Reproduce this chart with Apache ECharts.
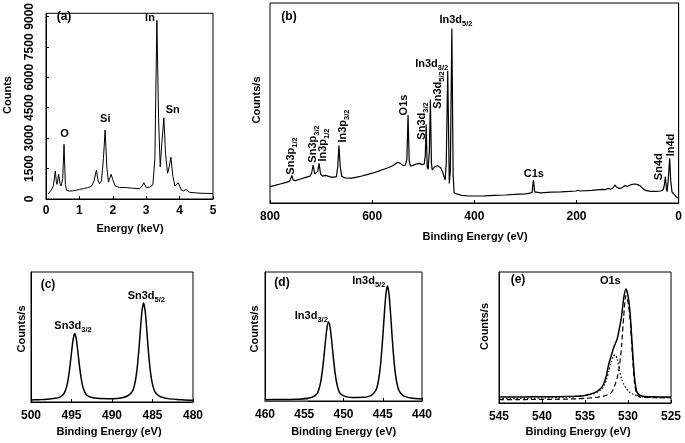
<!DOCTYPE html>
<html><head><meta charset="utf-8">
<script src="https://cdn.jsdelivr.net/npm/echarts@6/dist/echarts.min.js"></script>
<style>html,body{margin:0;padding:0;background:#fff}#c{width:685px;height:443px}</style>
</head><body><div id="c"></div>
<script>
// (a) EDS spectrum
const aEnergy = [0.07,0.12,0.17,0.22,0.28,0.31,0.33,0.38,0.42,0.45,0.50,0.54,0.58,0.62,0.70,0.80,0.90,1.00,1.12,1.25,1.37,1.44,1.51,1.56,1.60,1.66,1.72,1.77,1.82,1.87,1.95,2.00,2.07,2.20,2.42,2.60,2.81,2.88,2.93,3.00,3.10,3.20,3.26,3.32,3.37,3.42,3.47,3.53,3.58,3.64,3.69,3.74,3.80,3.86,3.96,4.06,4.12,4.19,4.30,4.50,4.70,5.00];
const aCounts = [250,330,480,650,1380,850,720,1220,750,640,1000,2690,700,420,390,400,430,470,510,560,640,900,1430,900,750,900,2000,3400,1600,830,1220,950,640,570,560,530,510,650,800,560,580,700,2000,8800,4000,1585,2800,4000,2200,1270,1600,2060,1100,640,800,420,400,470,330,300,280,270];
const aTicks = {min:0, max:5, interval:1, yMax:9150, yInterval:1500};

// (b) XPS survey
const bBE = [800,790,780,770,762,759,757,754.5,750,740,730,722,718.5,715.5,712.5,709,706.5,704,701,697,691,688,684,678,670,667.5,665,662.5,659.5,653,640,630,620,610,600,590,580,570,560,555,550,545,540,535,532,529.8,527.5,525,520,512,508,502,498,496,494.2,492.3,490.5,488,486,484,482.5,478,472,466,462,459,457,455,452.1,449,447,444,441.5,439.5,436,425,410,400,380,360,340,320,300,291,287,284.3,282,279,270,250,230,214,201,197,193,170,150,147,143,139,134,128,125,121,116,111,105,101,96,91,85,80,75,70,65,55,45,35,30,28,26,24,22.5,20,17.6,15.5,13,10,5,2,0];
const bCounts = [8.2,8.8,9.5,10.2,10.8,11.3,13.7,11.4,11.2,12.0,12.8,13.4,15.0,19.0,14.5,13.8,15.8,19.8,14.5,13.4,13.8,14.3,13.2,12.8,13.2,18,28.7,18,13.3,12.5,12.4,12.9,13.5,14.2,14.9,15.7,16.6,17.5,18.6,19.5,20.4,19.8,18.8,18.9,22,44,21,18.5,18.8,19.6,19.8,19.2,19.5,24,39.3,18,16.8,26,51.8,20,16.5,18,18.6,17.6,15.5,13,11.5,20,66,9.8,16,87.3,14,5,4.2,3.8,3.5,3.5,3.6,3.8,4.0,4.3,4.6,4.9,5.3,11.5,5.6,5.0,5.1,5.4,5.6,5.8,6.0,6.4,6.0,6.3,6.8,7.3,6.7,7.3,6.9,7.6,9.0,7.8,7.3,7.6,8.7,8.2,8.9,9.3,9.5,9.2,8.5,7.2,6.3,5.8,5.8,6.0,6.8,9,13.2,7,5.7,13,22.3,11,5.5,4.5,3.2,2.4,2.2];

// (c) Sn 3d
const cBE = [500,499,498,497,496.6,496.1,495.85,495.6,495.4,495.2,495.0,494.8,494.6,494.4,494.2,494.0,493.8,493.6,493.35,493.1,492.6,492.1,491.6,490.35,489.1,488.6,488.1,487.6,487.35,487.1,486.9,486.7,486.5,486.3,486.1,485.9,485.7,485.5,485.3,485.1,484.85,484.6,484.1,483.6,483.1,482,481,480];
const cCounts = [1.6,1.8,2.1,2.8,3.4,5.2,7.4,11.8,18.0,27.0,37.9,48.1,52.6,48.1,37.9,27.0,18.0,11.8,7.4,5.2,3.6,3.0,2.6,2.5,2.9,3.5,4.6,7.1,10.2,16.7,25.8,38.8,54.9,69.8,76.2,69.7,54.8,38.7,25.7,16.6,10.1,6.9,4.3,3.2,2.6,2.0,1.6,1.4];

// (d) In 3d
const dBE = [460,458,456,455,454.4,453.9,453.4,453.15,452.9,452.7,452.5,452.3,452.1,451.9,451.7,451.5,451.3,451.1,450.9,450.65,450.4,449.9,449.4,448.9,448.15,447.4,446.9,446.4,445.9,445.65,445.4,445.2,445.0,444.8,444.6,444.4,444.2,444.0,443.8,443.6,443.4,443.15,442.9,442.4,441.9,441.4,440.4,440];
const dCounts = [1.0,1.2,1.4,1.9,2.3,3.2,5.5,8.7,15.0,23.1,34.0,46.2,56.9,61.3,56.9,46.2,34.0,23.1,15.0,8.8,5.7,3.8,3.0,2.8,2.8,2.9,3.4,4.6,8.0,12.6,21.8,33.5,49.3,67.2,82.7,89.2,82.7,67.2,49.2,33.4,21.6,12.4,7.7,4.2,3.0,2.4,1.7,1.6];
const dBgBE = [460,454.5];
const dBgCounts = [0.6,0.6];

// (e) O 1s
const eBE = [545,543,541,539,537,536,535,534.5,534,533.5,533,532.75,532.5,532.25,532,531.75,531.5,531.25,531,530.75,530.5,530.25,530,529.75,529.5,529.25,529,528.75,528.5,528,527,526,525];
const eEnvelope = [4.6,4.6,4.7,4.8,4.9,5.2,5.8,6.5,7.5,9.2,12.5,16,21,29.5,35,40.5,45,49,57,66,80,87,82,68,43,20,9,6.5,5.6,5.0,4.7,4.6,4.5];
const eLattice = [2.6,2.6,2.7,2.8,3.0,3.2,3.5,3.8,4.1,4.5,5.0,5.4,5.9,6.6,7.6,10,14,19.5,28,43,66,82,77,64,38,16,7,5.0,4.5,4.2,4.1,4.0,4.0];
const eDefect = [3.3,3.4,3.6,3.9,4.5,5.0,5.8,6.4,7.0,8.5,11.0,13.8,18,24,30.5,35.5,36.8,33.5,25,18.5,14.5,11.5,9.5,8,7,6.2,5.6,5.2,4.9,4.5,4.2,4.1,4.0];

const F = 'Liberation Sans';
const zip = (xs, ys) => xs.map((x, i) => [x, ys[i]]);
const plain = v => String(v);

function xAx(gi, min, max, interval, inverse, margin) {
  return {type:'value', gridIndex:gi, min:min, max:max, interval:interval, inverse:inverse,
    axisLine:{show:true, onZero:false, lineStyle:{color:'#000', width:1}},
    axisTick:{show:true, inside:true, length:3, lineStyle:{color:'#000'}},
    axisLabel:{fontFamily:F, fontWeight:'bold', fontSize:12, color:'#000', margin:margin, formatter:plain},
    splitLine:{show:false}};
}
function yAxPlain(gi) {
  return {type:'value', gridIndex:gi, min:0, max:100,
    axisLine:{show:true, lineStyle:{color:'#000', width:1}},
    axisTick:{show:false}, axisLabel:{show:false}, splitLine:{show:false}};
}
function line(gi, data, width, type) {
  return {type:'line', xAxisIndex:gi, yAxisIndex:gi, data:data, showSymbol:false, symbol:'none',
    smooth: gi >= 2 ? 0.25 : false, animation:false,
    lineStyle:{color:'#000', width:width, type:type || 'solid'}};
}
const gridStyle = {show:true, borderColor:'#000', borderWidth:1, backgroundColor:'transparent'};

function txt(x, y, main, sub, rot, size) {
  size = size || 11;
  const text = sub ? '{m|' + main + '}{s|' + sub + '}' : '{m|' + main + '}';
  return {type:'text', x:x, y:y, rotation: rot ? Math.PI/2 : 0, z:100,
    style:{text:text, align:'center', verticalAlign:'middle', textAlign:'center', textVerticalAlign:'middle',
      fill:'#000',
      rich:{m:{fontFamily:F, fontWeight:'bold', fontSize:size, lineHeight:16, color:'#000'},
            s:{fontFamily:F, fontWeight:'bold', fontSize:7.5, verticalAlign:'bottom', color:'#000'}}}};
}

const annotations = [
  txt(64, 17, '(a)', '', false, 12),
  txt(64.5, 134, 'O'), txt(105.3, 119, 'Si'), txt(150, 18, 'In'), txt(172.7, 110, 'Sn'),
  txt(8, 95, 'Counts', '', true),
  txt(130, 229, 'Energy (keV)'),
  txt(289, 16.5, '(b)', '', false, 12),
  txt(291, 156, 'Sn3p', '1/2', true), txt(312.5, 144, 'Sn3p', '3/2', true),
  txt(323, 145, 'In3p', '1/2', true), txt(342.5, 126, 'In3p', '3/2', true),
  txt(403.7, 105, 'O1s', '', true), txt(421.7, 121, 'Sn3d', '3/2', true),
  txt(437.5, 90, 'Sn3d', '5/2', true),
  txt(431.7, 64, 'In3d', '3/2'), txt(456, 20, 'In3d', '5/2'),
  txt(533.8, 174, 'C1s'), txt(659.2, 166.7, 'Sn4d', '', true), txt(670.5, 145, 'In4d', '', true),
  txt(256.7, 100, 'Counts/s', '', true),
  txt(475, 237, 'Binding Energy (eV)'),
  txt(48, 284.5, '(c)', '', false, 12),
  txt(73, 326, 'Sn3d', '3/2'), txt(146.3, 296, 'Sn3d', '5/2'),
  txt(21.7, 329, 'Counts/s', '', true), txt(109, 432, 'Binding Energy (eV)'),
  txt(282, 283, '(d)', '', false, 12),
  txt(311.3, 315.5, 'In3d', '3/2'), txt(368.8, 281, 'In3d', '5/2'),
  txt(255, 329, 'Counts/s', '', true), txt(343.7, 432, 'Binding Energy (eV)'),
  txt(518, 280, '(e)', '', false, 12), txt(610.3, 281, 'O1s'),
  txt(485.3, 326.5, 'Counts/s', '', true), txt(578, 432, 'Binding Energy (eV)')
];

const chart = echarts.init(document.getElementById('c'), null, {renderer:'canvas'});
const option = {
  backgroundColor:'#fff',
  animation:false,
  grid:[
    Object.assign({left:46, top:5, width:167, height:194}, gridStyle),
    Object.assign({left:270, top:3, width:410, height:200}, gridStyle),
    Object.assign({left:31, top:272, width:162, height:130}, gridStyle),
    Object.assign({left:265, top:272, width:157, height:129}, gridStyle),
    Object.assign({left:499, top:272, width:172, height:131}, gridStyle)
  ],
  xAxis:[
    xAx(0, aTicks.min, aTicks.max, aTicks.interval, false, 6),
    xAx(1, 0, 800, 200, true, 8),
    xAx(2, 480, 500, 5, true, 8),
    xAx(3, 440, 460, 5, true, 8),
    xAx(4, 525, 545, 5, true, 8)
  ],
  yAxis:[
    {type:'value', gridIndex:0, min:0, max:aTicks.yMax, interval:aTicks.yInterval,
      axisLine:{show:true, lineStyle:{color:'#000'}},
      axisTick:{show:true, inside:true, length:3, lineStyle:{color:'#000'}},
      axisLabel:{rotate:90, fontFamily:F, fontWeight:'bold', fontSize:12, color:'#000', margin:10, showMaxLabel:false, formatter:plain},
      splitLine:{show:false}},
    yAxPlain(1), yAxPlain(2), yAxPlain(3), yAxPlain(4)
  ],
  series:[
    line(0, zip(aEnergy, aCounts), 1),
    line(1, zip(bBE, bCounts), 1.2),
    line(2, zip(cBE, cCounts), 1.5),
    Object.assign(line(3, zip(dBgBE, dBgCounts), 2.5), {smooth:false, lineStyle:{color:'#888', width:2.5}}),
    line(3, zip(dBE, dCounts), 1.5),
    line(4, zip(eBE, eEnvelope), 1.5),
    line(4, zip(eBE, eLattice), 1.2, [5, 3]),
    line(4, zip(eBE, eDefect), 1.2, [1.5, 2])
  ],
  graphic:{elements:annotations}
};
chart.setOption(option);
</script>
</body></html>
